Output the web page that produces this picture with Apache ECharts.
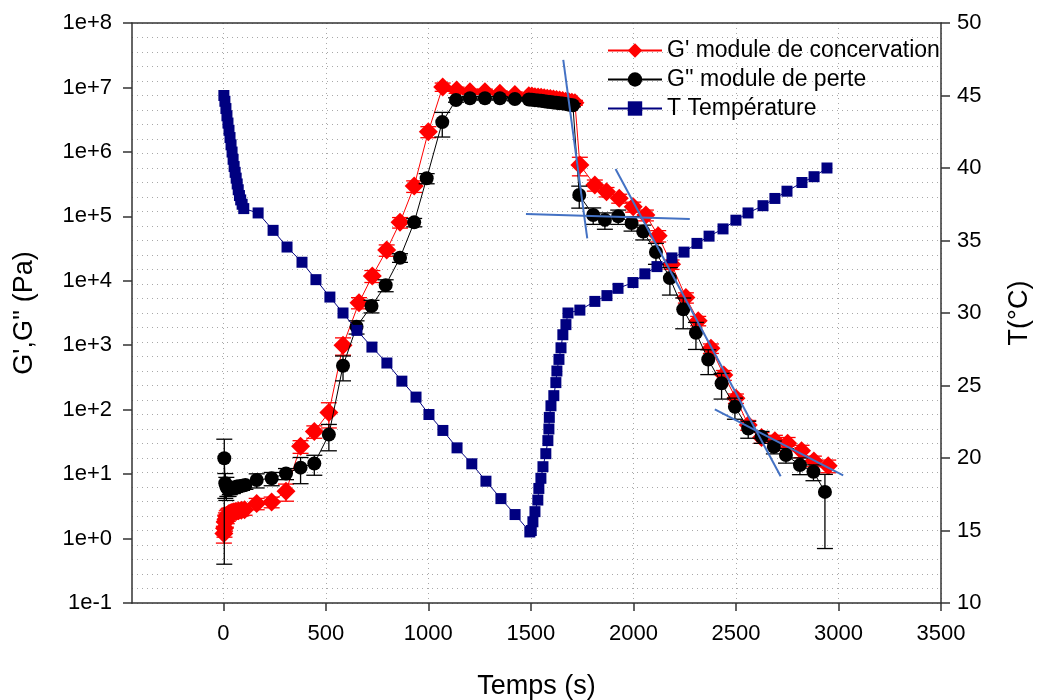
<!DOCTYPE html>
<html><head><meta charset="utf-8">
<script src="https://cdn.jsdelivr.net/npm/echarts@6/dist/echarts.min.js"></script>
<style>html,body{margin:0;padding:0;background:#fff}#c{width:1041px;height:700px}</style>
</head><body><div id="c"></div>
<script>
// ---- data (time s, value, error) ----
const xTicks = [0, 500, 1000, 1500, 2000, 2500, 3000, 3500];
const seriesNames = ["G' module de concervation", "G'' module de perte", "T Température"];

const gPrime = [
  [3,1.2,0.35],[6,1.45,0.4],[9,1.8,0.5],[13,2.0,0.5],[17,2.2,0.5],[22,2.35,0.5],[28,2.45,0.5],
  [35,2.5,0.5],[43,2.55,0.5],[52,2.6,0.5],[62,2.65,0.5],[74,2.7,0.5],[88,2.75,0.5],[104,2.8,0.5],
  [163,3.5,0.7],[236,3.7,0.7],[306,5.4,1.6],[377,27,6],[444,46,10],[515,90,38],[584,1000,300],
  [662,4570,900],[727,11900,2500],[797,30000,6000],[862,80700,15000],[931,295000,60000],
  [1000,2.06e6,4e5],[1070,1.02e7,1.5e6],[1138,9.1e6,1e6],[1203,8.6e6,8e5],[1276,8.6e6,8e5],
  [1349,8.1e6,7e5],[1422,7.8e6,7e5],[1490,7.4e6,6e5],[1505,7.35e6,6e5],[1520,7.2e6,6e5],
  [1535,7.1e6,6e5],[1550,7.05e6,6e5],[1565,6.9e6,6e5],[1580,6.8e6,6e5],[1595,6.75e6,5e5],
  [1610,6.6e6,5e5],[1625,6.5e6,5e5],[1640,6.4e6,5e5],[1655,6.3e6,5e5],[1670,6.1e6,5e5],
  [1685,6.0e6,5e5],[1700,5.9e6,5e5],[1715,5.8e6,5e5],
  [1739,6.25e5,2e5],[1812,3.06e5,6e4],[1869,2.4e5,4e4],[1931,1.9e5,3e4],[1999,1.41e5,2.5e4],
  [2061,1.05e5,2e4],[2121,5.0e4,1e4],[2186,1.8e4,3e3],[2256,5500,1000],[2316,2400,400],
  [2378,896,150],[2441,345,60],[2500,150,25],[2560,58,10],[2625,37,7],[2690,33,7],
  [2752,30,7],[2820,23,5],[2880,16,3],[2950,13.5,3]
];

const gSecond = [
  [5,17.6,17.2],[10,7.2,3],[15,6.4,2.5],[20,6.0,1.5],[26,5.7,1.2],[32,6.0,1.2],[39,6.2,1.2],
  [47,6.0,1],[56,6.2,1],[66,6.4,1],[78,6.5,1],[92,6.6,1],[108,6.8,1],
  [163,8.1,2],[236,8.6,2],[306,10.2,2],[377,12.6,5.5],[444,14.6,5],[515,41,18],[584,480,200],
  [650,1940,450],[723,4070,900],[792,8560,1800],[862,22800,3500],[931,80700,12000],
  [992,3.9e5,7e4],[1068,2.9e6,1.2e6],[1135,6.4e6,5e5],[1203,6.8e6,4e5],[1276,6.8e6,4e5],
  [1349,6.8e6,4e5],[1422,6.6e6,4e5],[1490,6.5e6,3e5],[1505,6.45e6,3e5],[1520,6.35e6,3e5],
  [1535,6.3e6,3e5],[1550,6.2e6,3e5],[1565,6.1e6,3e5],[1580,6.0e6,3e5],[1595,5.95e6,3e5],
  [1610,5.85e6,3e5],[1625,5.8e6,3e5],[1640,5.7e6,3e5],[1655,5.65e6,3e5],[1670,5.55e6,3e5],
  [1688,5.4e6,3e5],[1705,5.3e6,3e5],
  [1736,2.14e5,8e4],[1804,1.05e5,3e4],[1861,8.8e4,2.5e4],[1926,1.0e5,2.5e4],[1991,7.9e4,2e4],
  [2048,5.8e4,1.5e4],[2110,2.8e4,1e4],[2178,1.1e4,5e3],[2243,3600,1800],[2305,1560,700],
  [2365,600,250],[2430,256,110],[2495,111,40],[2560,51,15],[2625,38,8],[2685,26.6,6],
  [2744,19.8,5],[2812,13.8,4],[2878,10.9,3],[2934,5.3,4.6]
];

const temperature = [
  [3,45.0],[8,44.6],[13,44.1],[18,43.6],[23,43.1],[28,42.6],[33,42.1],[38,41.6],[43,41.1],
  [48,40.6],[53,40.1],[58,39.7],[63,39.3],[68,38.9],[73,38.5],[79,38.1],[85,37.8],[92,37.5],
  [100,37.2],[170,36.9],[243,35.7],[311,34.55],[384,33.5],[452,32.3],[520,31.1],[584,30.0],
  [652,28.8],[725,27.65],[798,26.55],[871,25.3],[940,24.2],[1003,23.0],[1071,21.9],[1140,20.7],
  [1212,19.6],[1281,18.4],[1354,17.2],[1423,16.1],[1495,14.9],[1502,15.0],[1510,15.6],[1520,16.3],
  [1534,17.1],[1539,17.9],[1549,18.6],[1559,19.4],[1573,20.3],[1583,21.2],[1588,22.0],[1590,22.8],
  [1598,23.6],[1612,24.3],[1622,25.2],[1627,26.0],[1637,26.8],[1647,27.6],[1656,28.5],[1671,29.2],
  [1681,30.0],[1739,30.2],[1812,30.8],[1871,31.2],[1925,31.7],[1998,32.1],[2056,32.7],[2115,33.2],
  [2188,33.8],[2247,34.2],[2310,34.8],[2369,35.3],[2437,35.8],[2500,36.4],[2559,36.9],[2632,37.4],
  [2690,37.9],[2749,38.4],[2822,39.0],[2881,39.4],[2944,40.0]
];

const tangent1 = [[1658,2.67e7],[1775,4.56e4]];
const tangent2 = [[1476,1.09e5],[2275,9.08e4]];
const tangent3 = [[1913,5.42e5],[2718,9.25]];
const tangent4 = [[2397,101],[3023,9.57]];

// ---- chart ----
const FONT = 'Liberation Sans, Arial, sans-serif';
const chart = echarts.init(document.getElementById('c'), null, {renderer: 'canvas'});

function errRender(color) {
  return function (params, api) {
    const x = api.value(0), y = api.value(1), e = api.value(2);
    const top = api.coord([x, y + e]);
    const bot = api.coord([x, Math.max(y - e, 0.1)]);
    const hw = 8;
    const style = {stroke: color, lineWidth: 1.3};
    return {type: 'group', children: [
      {type: 'line', shape: {x1: top[0], y1: top[1], x2: bot[0], y2: bot[1]}, style},
      {type: 'line', shape: {x1: top[0] - hw, y1: top[1], x2: top[0] + hw, y2: top[1]}, style},
      {type: 'line', shape: {x1: bot[0] - hw, y1: bot[1], x2: bot[0] + hw, y2: bot[1]}, style}
    ]};
  };
}

const gridLine = {show: true, lineStyle: {color: '#a8a8a8', type: [1, 4], width: 1}};
const axisLine = {show: true, onZero: false, lineStyle: {color: '#333', width: 1.5}};
const labelStyle = {fontSize: 22, color: '#000', fontFamily: FONT};

function tangentSeries(d) {
  return {type: 'line', data: d, xAxisIndex: 0, yAxisIndex: 0, symbol: 'none', z: 10,
    lineStyle: {color: '#4472C4', width: 2}, silent: true, animation: false};
}

chart.setOption({
  animation: false,
  backgroundColor: '#fff',
  grid: {left: 132, right: 100, top: 23, bottom: 97, containLabel: false, outerBoundsMode: 'none'},
  legend: {
    data: seriesNames,
    orient: 'vertical', left: 602, top: 34, itemWidth: 54, itemHeight: 18, itemGap: 6,
    textStyle: {fontSize: 23, color: '#000', fontFamily: FONT}
  },
  xAxis: [{
    type: 'value', min: -445, max: 3500, position: 'bottom',
    name: 'Temps (s)', nameLocation: 'middle', nameGap: 70,
    nameTextStyle: {fontSize: 27, color: '#000', fontFamily: FONT},
    axisLine: axisLine,
    axisTick: {show: true, inside: false, length: 8, customValues: xTicks, lineStyle: {color: '#333', width: 1.5}},
    axisLabel: {customValues: xTicks, margin: 20, ...labelStyle, formatter: v => String(v)},
    splitLine: gridLine
  }, {
    type: 'value', min: -445, max: 3500, position: 'top',
    axisLine: axisLine, axisTick: {show: false}, axisLabel: {show: false}, splitLine: {show: false}
  }],
  yAxis: [{
    type: 'log', logBase: 10, min: 0.1, max: 1e8, splitNumber: 9, position: 'left',
    name: "G',G'' (Pa)", nameLocation: 'middle', nameGap: 94, nameRotate: 90,
    nameTextStyle: {fontSize: 27, color: '#000', fontFamily: FONT},
    axisLine: axisLine,
    axisTick: {show: true, inside: false, length: 9, lineStyle: {color: '#333', width: 1.5}},
    axisLabel: {margin: 20, ...labelStyle, formatter: function (v) {
      const e = Math.round(Math.log10(v));
      return '1e' + (e >= 0 ? '+' : '') + e;
    }},
    splitLine: {show: false}
  }, {
    type: 'value', min: 10, max: 50, interval: 5, position: 'right',
    name: 'T(°C)', nameLocation: 'middle', nameGap: 65, nameRotate: 90,
    nameTextStyle: {fontSize: 27, color: '#000', fontFamily: FONT},
    axisLine: axisLine,
    axisTick: {show: true, inside: false, length: 9, lineStyle: {color: '#333', width: 1.5}},
    axisLabel: {margin: 16, ...labelStyle},
    splitLine: gridLine,
    minorTick: {show: false, splitNumber: 5},
    minorSplitLine: gridLine
  }],
  series: [
    {type: 'custom', name: 'errG1', xAxisIndex: 0, yAxisIndex: 0, data: gPrime,
      renderItem: errRender('#ff0000'), encode: {x: 0, y: 1}, z: 2, silent: true},
    {type: 'line', name: seriesNames[0], xAxisIndex: 0, yAxisIndex: 0,
      data: gPrime.map(d => [d[0], d[1]]),
      symbol: 'diamond', symbolSize: 19, z: 3,
      itemStyle: {color: '#ff0000'}, lineStyle: {color: '#ff0000', width: 1}},
    {type: 'custom', name: 'errG2', xAxisIndex: 0, yAxisIndex: 0, data: gSecond,
      renderItem: errRender('#000000'), encode: {x: 0, y: 1}, z: 4, silent: true},
    {type: 'line', name: seriesNames[1], xAxisIndex: 0, yAxisIndex: 0,
      data: gSecond.map(d => [d[0], d[1]]),
      symbol: 'circle', symbolSize: 14, z: 5,
      itemStyle: {color: '#000000'}, lineStyle: {color: '#000000', width: 1}},
    {type: 'line', name: seriesNames[2], xAxisIndex: 0, yAxisIndex: 1,
      data: temperature,
      symbol: 'rect', symbolSize: 11, z: 6,
      itemStyle: {color: '#000080'}, lineStyle: {color: '#000080', width: 1}},
    tangentSeries(tangent1), tangentSeries(tangent2), tangentSeries(tangent3), tangentSeries(tangent4)
  ]
});
</script>
</body></html>
